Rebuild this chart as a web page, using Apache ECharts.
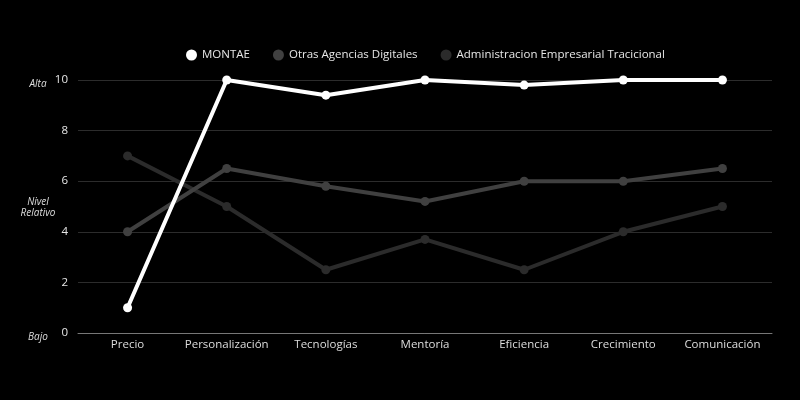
<!DOCTYPE html>
<html>
<head>
<meta charset="utf-8">
<script src="https://cdn.jsdelivr.net/npm/echarts@6/dist/echarts.min.js"></script>
<style>
html,body{margin:0;padding:0;background:#000;}
#chart{width:800px;height:400px;}
</style>
</head>
<body>
<div id="chart"></div>
<script>
var categories = ['Precio','Personalización','Tecnologías','Mentoría','Eficiencia','Crecimiento','Comunicación'];
var montae = [1, 10, 9.4, 10, 9.8, 10, 10];
var otras = [4, 6.5, 5.8, 5.2, 6, 6, 6.5];
var tradicional = [7, 5, 2.5, 3.7, 2.5, 4, 5];
var seriesNames = ['MONTAE','Otras Agencias Digitales','Administracion Empresarial Tracicional'];
var levelLabels = {0:['Bajo'], 5:['Nivel','Relativo'], 10:['Alta']};

var FONT = 'Open Sans';
var chart = echarts.init(document.getElementById('chart'));
chart.setOption({
  backgroundColor: '#000',
  textStyle: {fontFamily: FONT},
  legend: {
    top: 44,
    left: 181,
    itemWidth: 11, itemHeight: 11, itemGap: 23,
    icon: 'circle',
    textStyle: {color: '#e6e6e6', fontSize: 11.5, fontFamily: FONT},
    data: seriesNames
  },
  grid: {left: 78, right: 28, top: 80, bottom: 67},
  xAxis: {
    type: 'category',
    data: categories,
    boundaryGap: true,
    axisLine: {lineStyle: {color: '#777', width: 1}},
    axisTick: {show: false},
    axisLabel: {color: '#dddddd', fontSize: 11.5, margin: 6, interval: 0, fontFamily: FONT}
  },
  yAxis: [{
    type: 'value', min: 0, max: 10, interval: 2,
    axisLine: {show: false}, axisTick: {show: false},
    axisLabel: {color: '#e6e6e6', fontSize: 11.5, margin: 10, fontFamily: FONT},
    splitLine: {lineStyle: {color: '#2c2c2c', width: 1}}
  }, {
    type: 'value', min: 0, max: 10, interval: 5, position: 'left', offset: 32,
    axisLine: {show: false}, axisTick: {show: false}, splitLine: {show: false},
    axisLabel: {
      color: '#dddddd', fontSize: 10, fontStyle: 'italic', fontFamily: FONT, align: 'center', margin: 8,
      formatter: function (v) {
        var l = levelLabels[v];
        if (!l) return '';
        if (l.length === 1) return '{s|' + l[0] + '}';
        return '{m|' + l[0] + '}\n{n|' + l[1] + '}';
      },
      rich: {
        s: {color: '#dddddd', fontSize: 10, fontStyle: 'italic', fontFamily: FONT, lineHeight: 14, padding: [8, 0, 0, 0]},
        m: {color: '#dddddd', fontSize: 10, fontStyle: 'italic', fontFamily: FONT, lineHeight: 13, padding: [4, 0, 0, 0]},
        n: {color: '#dddddd', fontSize: 10, fontStyle: 'italic', fontFamily: FONT, lineHeight: 13}
      }
    }
  }],
  series: [{
    name: seriesNames[0], type: 'line', data: montae,
    symbol: 'circle', symbolSize: 9,
    lineStyle: {color: '#ffffff', width: 4},
    itemStyle: {color: '#ffffff'},
    z: 5
  }, {
    name: seriesNames[1], type: 'line', data: otras,
    symbol: 'circle', symbolSize: 9,
    lineStyle: {color: '#404040', width: 4},
    itemStyle: {color: '#404040'},
    z: 4
  }, {
    name: seriesNames[2], type: 'line', data: tradicional,
    symbol: 'circle', symbolSize: 9,
    lineStyle: {color: '#2b2b2b', width: 4},
    itemStyle: {color: '#2b2b2b'},
    z: 3
  }]
});
</script>
</body>
</html>
